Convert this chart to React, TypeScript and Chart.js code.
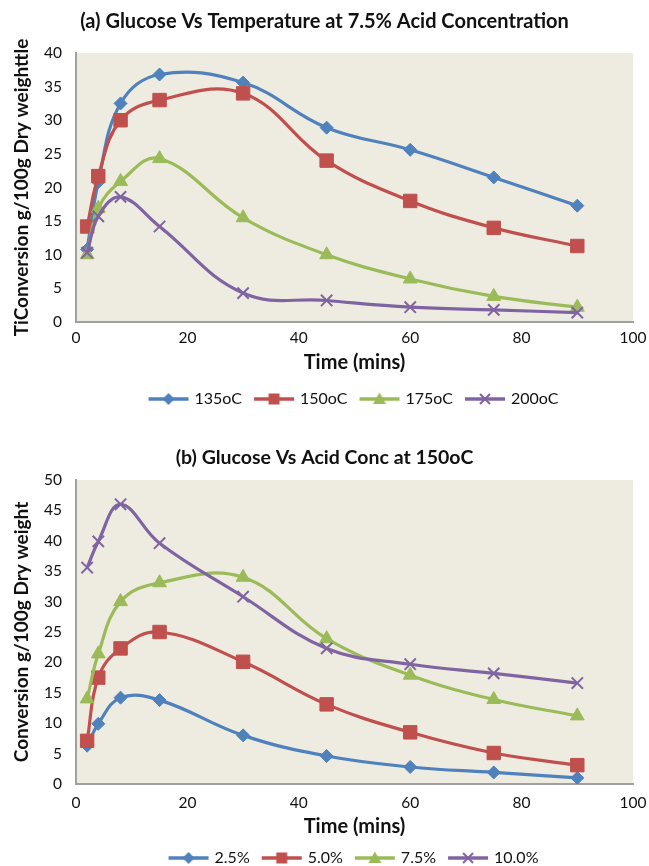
import React, { useEffect, useRef } from 'react';
import { Chart, registerables } from 'chart.js';

Chart.register(...registerables);

// ---------------- DATA ----------------
const TIME = [2, 4, 8, 15, 30, 45, 60, 75, 90];

const TEMP_LABELS = ['135oC', '150oC', '175oC', '200oC'];
const T135 = [10.8, 20.8, 32.5, 36.8, 35.6, 28.9, 25.6, 21.5, 17.3];
const T150 = [14.2, 21.7, 30.0, 33.0, 34.0, 24.0, 18.0, 14.0, 11.3];
const T175 = [10.0, 16.9, 20.9, 24.3, 15.5, 10.0, 6.4, 3.8, 2.2];
const T200 = [10.3, 15.7, 18.6, 14.2, 4.3, 3.2, 2.2, 1.8, 1.4];

const CONC_LABELS = ['2.5%', '5.0%', '7.5%', '10.0%'];
const C25 = [6.3, 9.9, 14.2, 13.8, 8.0, 4.6, 2.8, 1.9, 1.0];
const C50 = [7.1, 17.5, 22.3, 25.0, 20.1, 13.1, 8.5, 5.1, 3.1];
const C75 = [14.0, 21.4, 30.0, 33.1, 34.0, 23.9, 17.9, 13.9, 11.2];
const C100 = [35.6, 39.9, 46.0, 39.6, 30.8, 22.3, 19.7, 18.2, 16.6];

const X_TICK_STEP = 20;
const Y_TICK_STEP = 5;

// ---------------- STYLE ----------------
const FONT = 'Lato, "Open Sans", sans-serif';
const COLORS = ['#4F81BD', '#C0504D', '#9BBB59', '#8064A2'];
const STYLES = ['rectRot', 'rect', 'triangle', 'crossRot'];
const RADII = [6.5, 9.5, 8, 8];
const AXIS_COLOR = '#a0a0a0';
const TEXT_COLOR = '#111111';

function makeIcon(color: string, style: string): HTMLCanvasElement {
  const c = document.createElement('canvas');
  c.width = 44;
  c.height = 16;
  const ctx = c.getContext('2d')!;
  ctx.strokeStyle = color;
  ctx.fillStyle = color;
  ctx.lineWidth = 3.5;
  ctx.beginPath();
  ctx.moveTo(2, 8);
  ctx.lineTo(42, 8);
  ctx.stroke();
  const cx = 22;
  const cy = 8;
  ctx.beginPath();
  if (style === 'rectRot') {
    ctx.moveTo(cx, cy - 6);
    ctx.lineTo(cx + 6, cy);
    ctx.lineTo(cx, cy + 6);
    ctx.lineTo(cx - 6, cy);
    ctx.closePath();
    ctx.fill();
  } else if (style === 'rect') {
    ctx.rect(cx - 5.5, cy - 5.5, 11, 11);
    ctx.fill();
  } else if (style === 'triangle') {
    ctx.moveTo(cx, cy - 6.5);
    ctx.lineTo(cx + 6.5, cy + 5);
    ctx.lineTo(cx - 6.5, cy + 5);
    ctx.closePath();
    ctx.fill();
  } else {
    ctx.lineWidth = 2;
    ctx.moveTo(cx - 5, cy - 5);
    ctx.lineTo(cx + 5, cy + 5);
    ctx.moveTo(cx + 5, cy - 5);
    ctx.lineTo(cx - 5, cy + 5);
    ctx.stroke();
  }
  return c;
}

const bgPlugin = {
  id: 'plotBg',
  beforeDraw(chart: any) {
    const { ctx, chartArea: a } = chart;
    ctx.save();
    ctx.fillStyle = '#EEECE1';
    ctx.fillRect(a.left, a.top, a.right - a.left, a.bottom - a.top);
    ctx.restore();
  },
};

interface Spec {
  title: string;
  titleSize: number;
  titlePad: { top: number; bottom: number };
  yLabel: string;
  yMax: number;
  labels: string[];
  series: number[][];
  xTickPad: number;
  xHeight: number;
  xTitlePadBottom: number;
  bottomPad: number;
}

function buildConfig(s: Spec): any {
  const icons = COLORS.map((c, i) => makeIcon(c, STYLES[i]));
  const datasets = s.series.map((vals, i) => ({
    label: s.labels[i],
    data: TIME.map((t, j) => ({ x: t, y: vals[j] })),
    borderColor: COLORS[i],
    backgroundColor: COLORS[i],
    borderWidth: 3.2,
    pointStyle: STYLES[i],
    pointRadius: RADII[i],
    pointBorderWidth: STYLES[i] === 'crossRot' ? 2 : 1,
    pointBackgroundColor: COLORS[i],
    pointBorderColor: COLORS[i],
    tension: 0.4,
    fill: false,
    order: s.series.length - i,
  }));
  return {
    type: 'line',
    data: { datasets },
    plugins: [bgPlugin],
    options: {
      responsive: false,
      animation: false,
      devicePixelRatio: 1,
      layout: { padding: { top: 0, left: 0, right: 0, bottom: s.bottomPad } },
      scales: {
        x: {
          type: 'linear',
          min: 0,
          max: 100,
          ticks: {
            stepSize: X_TICK_STEP,
            padding: s.xTickPad,
            font: { family: FONT, size: 15.5 },
            color: TEXT_COLOR,
          },
          grid: { display: false, drawTicks: false },
          border: { display: true, color: AXIS_COLOR, width: 2 },
          title: {
            display: true,
            text: 'Time (mins)',
            font: { family: FONT, size: 20, weight: 'bold' },
            color: TEXT_COLOR,
            padding: { top: 0, bottom: s.xTitlePadBottom },
          },
          afterFit: (sc: any) => {
            sc.height = s.xHeight;
            sc.paddingRight = 16;
          },
        },
        y: {
          type: 'linear',
          min: 0,
          max: s.yMax,
          ticks: {
            stepSize: Y_TICK_STEP,
            padding: 14,
            font: { family: FONT, size: 15.5 },
            color: TEXT_COLOR,
          },
          grid: { display: false, drawTicks: false },
          border: { display: true, color: AXIS_COLOR, width: 2 },
          title: {
            display: true,
            text: s.yLabel,
            font: { family: FONT, size: 19, weight: 'bold' },
            color: TEXT_COLOR,
            padding: { top: 10.6, bottom: 0 },
          },
          afterFit: (sc: any) => {
            sc.width = 76;
          },
        },
      },
      plugins: {
        title: {
          display: true,
          text: s.title,
          font: { family: FONT, size: s.titleSize, weight: 'bold' },
          color: TEXT_COLOR,
          padding: s.titlePad,
        },
        legend: {
          position: 'bottom',
          fullSize: false,
          labels: {
            usePointStyle: true,
            pointStyleWidth: 36,
            padding: 14,
            font: { family: FONT, size: 16 },
            color: TEXT_COLOR,
            generateLabels: (chart: any) => {
              const items = (Chart as any).defaults.plugins.legend.labels.generateLabels(chart);
              items.sort((a: any, b: any) => a.datasetIndex - b.datasetIndex);
              items.forEach((it: any) => {
                it.pointStyle = icons[it.datasetIndex];
                it.rotation = 0;
              });
              return items;
            },
          },
        },
        tooltip: { enabled: false },
      },
    },
  };
}

const SPEC_A: Spec = {
  title: '(a) Glucose Vs Temperature at 7.5% Acid Concentration',
  titleSize: 20,
  titlePad: { top: 10, bottom: 19 },
  yLabel: 'TiConversion g/100g Dry weighttle',
  yMax: 40,
  labels: TEMP_LABELS,
  series: [T135, T150, T175, T200],
  xTickPad: 7,
  xHeight: 55,
  xTitlePadBottom: 2,
  bottomPad: 8,
};

const SPEC_B: Spec = {
  title: '(b) Glucose Vs Acid Conc at 150oC',
  titleSize: 19.5,
  titlePad: { top: 21.3, bottom: 10.3 },
  yLabel: 'Conversion g/100g Dry weight',
  yMax: 50,
  labels: CONC_LABELS,
  series: [C25, C50, C75, C100],
  xTickPad: 10,
  xHeight: 52,
  xTitlePadBottom: -3,
  bottomPad: 9,
};

function ChartBox({ top, height, spec }: { top: number; height: number; spec: Spec }) {
  const ref = useRef<HTMLCanvasElement>(null);
  useEffect(() => {
    if (!ref.current) return;
    const chart = new Chart(ref.current, buildConfig(spec));
    return () => chart.destroy();
  }, [spec]);
  return (
    <div style={{ position: 'absolute', left: 0, top, width: 649, height }}>
      <canvas ref={ref} width={649} height={height} style={{ display: 'block', width: 649, height }} />
    </div>
  );
}

export default function App() {
  return (
    <div
      style={{
        position: 'absolute',
        left: 0,
        top: 0,
        width: 649,
        height: 866,
        overflow: 'hidden',
        background: '#ffffff',
      }}
    >
      <ChartBox top={0} height={425} spec={SPEC_A} />
      <ChartBox top={425} height={460} spec={SPEC_B} />
    </div>
  );
}
